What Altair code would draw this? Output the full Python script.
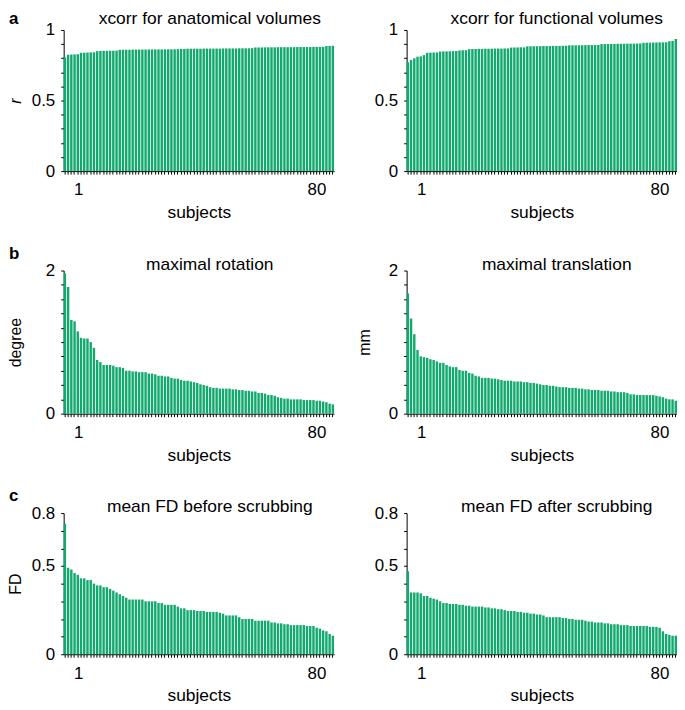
import altair as alt
import pandas as pd

subjects = list(range(1, 85))

xcorr_anat = [
    0.806,
    0.824, 0.826, 0.827, 0.828,
    0.838, 0.839, 0.840, 0.841, 0.842,
    0.850, 0.851, 0.852, 0.852, 0.853, 0.853, 0.854,
    0.859, 0.860, 0.860, 0.860, 0.861, 0.861, 0.861, 0.861, 0.861, 0.862,
    0.862, 0.862, 0.862, 0.862, 0.863, 0.863, 0.863, 0.863, 0.864,
    0.866, 0.866, 0.867, 0.867, 0.867, 0.867, 0.867, 0.868, 0.868, 0.868,
    0.868, 0.868, 0.868, 0.869, 0.869, 0.869, 0.869, 0.869, 0.870, 0.870,
    0.870, 0.870, 0.871,
    0.876, 0.876, 0.876, 0.877, 0.877, 0.877, 0.877, 0.878, 0.878, 0.878,
    0.878, 0.878, 0.878, 0.879, 0.879, 0.879, 0.879, 0.879, 0.880, 0.880,
    0.880, 0.880,
    0.886, 0.887, 0.888,
]

xcorr_func = [
    0.771, 0.787, 0.799, 0.811, 0.813, 0.822,
    0.838, 0.839, 0.840, 0.841,
    0.847, 0.848, 0.848, 0.849, 0.850, 0.851,
    0.855, 0.856, 0.857,
    0.864, 0.865, 0.865, 0.866, 0.866, 0.867, 0.867, 0.867, 0.868, 0.868,
    0.868, 0.869, 0.869,
    0.875, 0.876, 0.876, 0.877, 0.877,
    0.884, 0.884, 0.885, 0.885, 0.885, 0.886, 0.886, 0.886, 0.887, 0.887,
    0.887, 0.888, 0.888,
    0.891, 0.891, 0.891, 0.892, 0.892, 0.892, 0.893, 0.893, 0.893, 0.894,
    0.900, 0.900, 0.901, 0.901, 0.901, 0.902, 0.902, 0.902, 0.903, 0.903,
    0.903, 0.904, 0.904,
    0.909, 0.910, 0.910, 0.911, 0.911, 0.912, 0.912, 0.913,
    0.920, 0.922, 0.936,
]

max_rotation = [
    1.96, 1.77, 1.31, 1.29, 1.15, 1.06, 1.05, 1.05, 1.00, 0.92,
    0.75, 0.72, 0.68, 0.68, 0.68, 0.67, 0.65, 0.65, 0.64,
    0.60, 0.60, 0.59, 0.59, 0.58, 0.58, 0.58, 0.56, 0.56, 0.55,
    0.53, 0.53, 0.52, 0.52, 0.50, 0.49, 0.49, 0.47, 0.46, 0.46, 0.45,
    0.44, 0.43, 0.41, 0.40, 0.39, 0.37, 0.36, 0.36, 0.35, 0.35, 0.35, 0.35,
    0.34, 0.34, 0.33, 0.33, 0.32, 0.32, 0.31, 0.31, 0.29, 0.29, 0.28,
    0.26, 0.26, 0.25, 0.23, 0.22, 0.21, 0.21,
    0.20, 0.20, 0.20, 0.20, 0.19, 0.19, 0.19, 0.19, 0.18, 0.18, 0.17, 0.16,
    0.14, 0.13,
]

max_translation = [
    1.68, 1.33, 1.11, 0.89, 0.80, 0.79, 0.78, 0.76, 0.75, 0.73,
    0.71, 0.71, 0.68, 0.66, 0.65, 0.65, 0.61, 0.60, 0.60, 0.57,
    0.56, 0.53, 0.52, 0.50, 0.50, 0.50, 0.49, 0.49, 0.48, 0.47,
    0.46, 0.46, 0.46, 0.45, 0.45, 0.45, 0.44, 0.44, 0.43, 0.43,
    0.42, 0.41, 0.40, 0.40, 0.39, 0.39, 0.38, 0.37, 0.37, 0.37,
    0.36, 0.36, 0.36, 0.35, 0.35, 0.34, 0.34, 0.33, 0.33, 0.33,
    0.32, 0.32, 0.32, 0.31, 0.31, 0.30, 0.30, 0.30, 0.29, 0.27,
    0.27, 0.26, 0.26, 0.26, 0.26, 0.26, 0.26, 0.25, 0.24, 0.23,
    0.21, 0.20, 0.20, 0.18,
]

fd_before = [
    0.74, 0.49, 0.48, 0.46, 0.45, 0.43, 0.43, 0.42, 0.42, 0.40,
    0.39, 0.39, 0.38, 0.38, 0.37, 0.36, 0.35, 0.34, 0.33,
    0.32, 0.31, 0.31, 0.31,
    0.31, 0.31, 0.30,
    0.30, 0.30, 0.30, 0.29, 0.29,
    0.28, 0.28, 0.28, 0.28,
    0.27, 0.26, 0.26,
    0.25, 0.25, 0.25,
    0.245, 0.245, 0.245, 0.24, 0.24, 0.24, 0.24, 0.235, 0.23,
    0.22, 0.22, 0.22, 0.22,
    0.21, 0.20, 0.20, 0.20, 0.20,
    0.19, 0.19, 0.19, 0.19, 0.19,
    0.18, 0.18, 0.175, 0.175,
    0.17, 0.17, 0.165, 0.165, 0.165, 0.165, 0.165, 0.16, 0.16, 0.16,
    0.15, 0.145,
    0.135, 0.13,
    0.115, 0.105,
]

fd_after = [
    0.47,
    0.35, 0.35, 0.35, 0.345,
    0.33, 0.33,
    0.32, 0.315, 0.31,
    0.30,
    0.29, 0.29,
    0.285, 0.285, 0.285,
    0.28, 0.28,
    0.275, 0.275,
    0.27, 0.27, 0.27, 0.27,
    0.265, 0.265,
    0.26, 0.26, 0.255, 0.255,
    0.25,
    0.245, 0.245, 0.245, 0.24, 0.24,
    0.235, 0.235, 0.23,
    0.23, 0.225, 0.225, 0.22,
    0.21, 0.21, 0.21, 0.21, 0.21,
    0.205, 0.205, 0.20, 0.20,
    0.195, 0.195, 0.195,
    0.19, 0.185, 0.185,
    0.18, 0.18, 0.18, 0.175, 0.175,
    0.17, 0.17, 0.17, 0.165, 0.165, 0.165,
    0.16, 0.16, 0.16, 0.16, 0.16, 0.16,
    0.155, 0.155, 0.155, 0.15,
    0.13,
    0.115, 0.11,
    0.105, 0.105,
]

for arr in (xcorr_anat, xcorr_func, max_rotation, max_translation, fd_before, fd_after):
    assert len(arr) == len(subjects), len(arr)

panel_titles = [
    "xcorr for anatomical volumes", "xcorr for functional volumes",
    "maximal rotation", "maximal translation",
    "mean FD before scrubbing", "mean FD after scrubbing",
]
panel_letters = ["a", "b", "c"]

GREEN = "#12A96E"
FONT = "Liberation Sans"
W = 272


def make_panel(values, title, ymax, yticks, ylabels, height, ytitle=None, ytitle_x=-40,
               italic=False, letter=None, title_dx=11, title_y=-1, letter_y=-12):
    df = pd.DataFrame({"subject": subjects, "value": values})
    lab = ",".join(str(v) for v in ylabels)
    yaxis_kwargs = dict(
        values=yticks,
        labelExpr=f"indexof([{lab}], datum.value) >= 0 ? toString(datum.value) : ''",
        grid=False, tickSize=3, tickColor="black", domainColor="black",
        labelFont=FONT, labelFontSize=17, labelColor="black", labelPadding=6,
        labelOverlap=False, labelFlush=False,
    )
    if ytitle:
        yaxis_kwargs.update(
            title=ytitle, titleFont=FONT, titleFontSize=16, titleFontWeight="normal",
            titleColor="black", titleX=ytitle_x, titleY=height / 2, titleAngle=270,
            titleAlign="center", titleBaseline="bottom",
            titleFontStyle="italic" if italic else "normal",
        )
    else:
        yaxis_kwargs.update(title="")
    xaxis = alt.Axis(
        title="subjects",
        labelExpr="datum.value == 1 || datum.value == 80 ? datum.label : ''",
        labelAngle=0, labelOverlap=False, tickSize=3, tickColor="black",
        domainColor="black", labelFont=FONT, labelFontSize=17, labelColor="black",
        labelPadding=8,
        labelOffset={"condition": {"test": "datum.value == 1", "value": 14}, "value": -3},
        titleFont=FONT, titleFontSize=17.5, titleFontWeight="normal", titleColor="black",
        titlePadding=6, grid=False,
    )
    bars = alt.Chart(df).mark_bar(color=GREEN).encode(
        x=alt.X("subject:O", scale=alt.Scale(paddingInner=0.25, paddingOuter=0), axis=xaxis),
        y=alt.Y("value:Q", scale=alt.Scale(domain=[0, ymax], nice=False),
                axis=alt.Axis(**yaxis_kwargs)),
    )
    name = alt.Chart(pd.DataFrame({"t": [title]})).mark_text(
        font=FONT, fontSize=17.5, align="center", baseline="alphabetic", color="black",
    ).encode(text="t:N", x=alt.value(W / 2 + title_dx), y=alt.value(title_y))
    layers = [bars, name]
    if letter:
        txt = alt.Chart(pd.DataFrame({"t": [letter]})).mark_text(
            font=FONT, fontSize=17, fontWeight="bold", align="left",
            baseline="alphabetic", color="black",
        ).encode(text="t:N", x=alt.value(-55), y=alt.value(letter_y))
        layers.append(txt)
    return alt.layer(*layers).properties(width=W, height=height)


ticks_a = [0, 0.1, 0.2, 0.3, 0.4, 0.5, 0.6, 0.7, 0.8, 0.9, 1]
ticks_b = [0, 0.2, 0.4, 0.6, 0.8, 1, 1.2, 1.4, 1.6, 1.8, 2]
ticks_c = [0, 0.1, 0.2, 0.3, 0.4, 0.5, 0.6, 0.7, 0.8]

panels = [
    make_panel(xcorr_anat, panel_titles[0], 1, ticks_a, [0, 0.5, 1], 142, ytitle="r",
               italic=True, letter=panel_letters[0], title_y=-6, letter_y=-6),
    make_panel(xcorr_func, panel_titles[1], 1, ticks_a, [0, 0.5, 1], 142,
               title_dx=15, title_y=-6),
    make_panel(max_rotation, panel_titles[2], 2, ticks_b, [0, 2], 144, ytitle="degree",
               letter=panel_letters[1]),
    make_panel(max_translation, panel_titles[3], 2, ticks_b, [0, 2], 144, ytitle="mm",
               ytitle_x=-34, title_dx=15),
    make_panel(fd_before, panel_titles[4], 0.8, ticks_c, [0, 0.5, 0.8], 142, ytitle="FD",
               letter=panel_letters[2]),
    make_panel(fd_after, panel_titles[5], 0.8, ticks_c, [0, 0.5, 0.8], 142, title_dx=15),
]

chart = alt.concat(
    *panels, columns=2, spacing={"row": 100, "column": 73}, bounds="flush"
).properties(
    padding={"left": 0, "top": 0, "right": 0, "bottom": 0},
    background="white",
).configure_view(strokeWidth=0)

chart.save("out.html", embed_options={"renderer": "svg", "actions": False})
